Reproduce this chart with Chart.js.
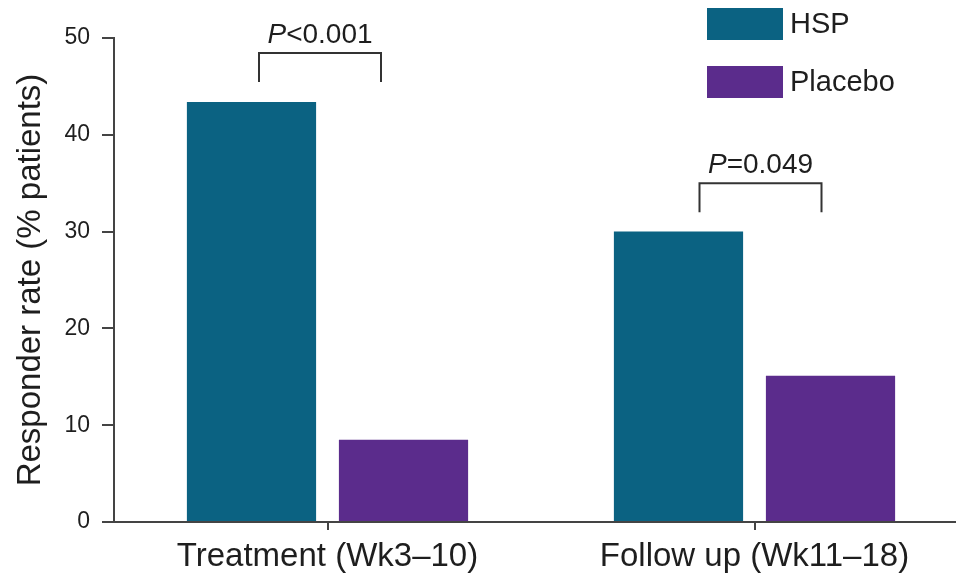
<!DOCTYPE html>
<html>
<head>
<meta charset="utf-8">
<script src="https://cdn.jsdelivr.net/npm/chart.js@4.4.0/dist/chart.umd.min.js"></script>
<style>
  html, body { margin: 0; padding: 0; background: #fff; overflow: hidden; }
  #wrap { position: relative; width: 970px; height: 582px; }
</style>
</head>
<body>
<div id="wrap"><canvas id="c"></canvas></div>
<script>
const categories = ['Treatment (Wk3\u201310)', 'Follow up (Wk11\u201318)'];
const hspValues = [43.4, 30.0];
const placeboValues = [8.5, 15.1];
const seriesNames = ['HSP', 'Placebo'];
const yTicks = [0, 10, 20, 30, 40, 50];
const pLabels = ['<0.001', '=0.049'];
const bracketTop = [48.45, 35.0];
const bracketBottom = [45.45, 32.0];

const colors = ['#0b6282', '#5b2c8c'];
const FONT = '"Liberation Sans", Arial, Helvetica, sans-serif';
const TEXT = '#1e1e1e';

const annotPlugin = {
  id: 'annot',
  afterDraw(chart) {
    const ctx = chart.ctx;
    const xs = chart.scales.x, ys = chart.scales.y;
    const shift = [-7.5, 6];
    ctx.save();
    ctx.strokeStyle = '#333';
    ctx.lineWidth = 2;
    for (let i = 0; i < pLabels.length; i++) {
      const cx = xs.getPixelForValue(i) + shift[i];
      const yt = ys.getPixelForValue(bracketTop[i]);
      const yb = ys.getPixelForValue(bracketBottom[i]);
      ctx.beginPath();
      ctx.moveTo(cx - 61, yb);
      ctx.lineTo(cx - 61, yt);
      ctx.lineTo(cx + 61, yt);
      ctx.lineTo(cx + 61, yb);
      ctx.stroke();
      ctx.fillStyle = TEXT;
      ctx.textBaseline = 'alphabetic';
      const pFont = 'italic 28px ' + FONT;
      const rFont = '28px ' + FONT;
      ctx.font = pFont;
      const wP = ctx.measureText('P').width;
      ctx.font = rFont;
      const wR = ctx.measureText(pLabels[i]).width;
      const x0 = cx - (wP + wR) / 2;
      const ty = yt - 10;
      ctx.font = pFont;
      ctx.textAlign = 'left';
      ctx.fillText('P', x0, ty);
      ctx.font = rFont;
      ctx.fillText(pLabels[i], x0 + wP, ty);
    }
    const lx = 707, ly = [8, 66], bw = 76, bh = 32;
    ctx.font = '29px ' + FONT;
    ctx.textBaseline = 'middle';
    ctx.textAlign = 'left';
    for (let i = 0; i < seriesNames.length; i++) {
      ctx.fillStyle = colors[i];
      ctx.fillRect(lx, ly[i], bw, bh);
      ctx.fillStyle = TEXT;
      ctx.fillText(seriesNames[i], lx + bw + 7, ly[i] + bh / 2 + 1);
    }
    ctx.restore();
  }
};

new Chart(document.getElementById('c'), {
  type: 'bar',
  data: {
    labels: categories,
    datasets: [
      { label: seriesNames[0], data: hspValues, backgroundColor: colors[0] },
      { label: seriesNames[1], data: placeboValues, backgroundColor: colors[1] }
    ]
  },
  options: {
    responsive: true,
    maintainAspectRatio: false,
    animation: false,
    events: [],
    layout: { padding: { top: 38, right: 2, bottom: 0, left: 0 } },
    datasets: { bar: { categoryPercentage: 0.712, barPercentage: 0.85 } },
    plugins: { legend: { display: false }, tooltip: { enabled: false } },
    scales: {
      x: {
        offset: true,
        grid: { offset: false, drawOnChartArea: false, drawTicks: true, tickLength: 8, color: '#444', lineWidth: 2 },
        border: { display: true, color: '#444', width: 2 },
        ticks: { color: TEXT, font: { family: FONT, size: 33 }, padding: 7, maxRotation: 0 },
        afterFit(s) { s.height = 60; }
      },
      y: {
        min: 0, max: 50,
        afterBuildTicks(s) { s.ticks = yTicks.map(v => ({ value: v })); },
        grid: { drawOnChartArea: false, drawTicks: true, tickLength: 12, color: '#444', lineWidth: 2 },
        border: { display: true, color: '#444', width: 2 },
        ticks: { color: TEXT, font: { family: FONT, size: 23 }, padding: 12 },
        title: { display: true, text: 'Responder rate (% patients)', color: TEXT, font: { family: FONT, size: 33 }, padding: { top: 11, bottom: 0 } },
        afterFit(s) { s.width = 114; }
      }
    }
  },
  plugins: [annotPlugin]
});
</script>
</body>
</html>
